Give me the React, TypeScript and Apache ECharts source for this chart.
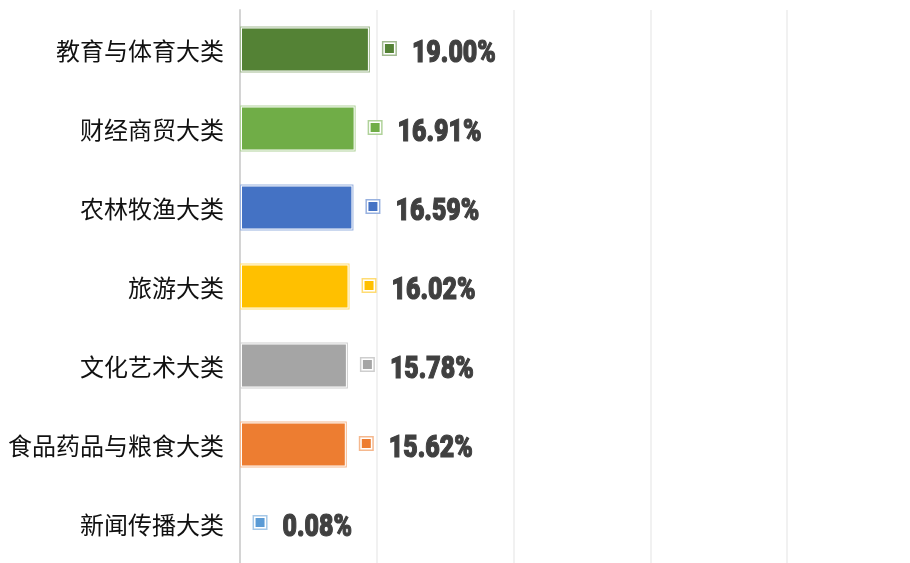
import React, { useEffect, useRef } from "react";
import * as echarts from "echarts";

const categories = [
  "教育与体育大类",
  "财经商贸大类",
  "农林牧渔大类",
  "旅游大类",
  "文化艺术大类",
  "食品药品与粮食大类",
  "新闻传播大类",
];
const values = [19.0, 16.91, 16.59, 16.02, 15.78, 15.62, 0.08];
const colors = ["#548235", "#70AD47", "#4472C4", "#FFC000", "#A5A5A5", "#ED7D31", "#5B9BD5"];
const xMin = 0;
const xMax = 80;
const xInterval = 20;

function lighten(hex: string, t: number): string {
  const n = parseInt(hex.slice(1), 16);
  const r = (n >> 16) & 255;
  const g = (n >> 8) & 255;
  const b = n & 255;
  const f = (c: number) => Math.round(c + (255 - c) * t);
  return `rgb(${f(r)},${f(g)},${f(b)})`;
}

export default function App() {
  const ref = useRef<HTMLDivElement>(null);
  useEffect(() => {
    document.body.style.margin = "0";
    const chart = echarts.init(ref.current!, null, { renderer: "svg" });
    chart.setOption({
      animation: false,
      grid: { left: 240, top: 10, width: 547, height: 557, containLabel: false },
      xAxis: {
        type: "value",
        min: xMin,
        max: xMax,
        interval: xInterval,
        axisLabel: { show: false },
        axisLine: { show: false },
        axisTick: { show: false },
        splitLine: { lineStyle: { color: "#EDEDED", width: 1.5 } },
      },
      yAxis: {
        type: "category",
        data: categories,
        inverse: true,
        axisLine: { lineStyle: { color: "#D4D4D4", width: 2 } },
        axisTick: { show: false },
        axisLabel: {
          fontSize: 24,
          color: "#111111",
          margin: 16,
          fontFamily: "Noto Sans CJK SC",
        },
      },
      series: [
        {
          type: "custom",
          clip: false,
          encode: { x: 0, y: 1 },
          data: values.map((v, i) => [v, i]),
          renderItem: (params: any, api: any) => {
            const v = api.value(0);
            const idx = api.value(1);
            const start = api.coord([0, idx]);
            const end = api.coord([v, idx]);
            const band = api.size([0, 1])[1];
            const h = band * 0.58;
            const x0 = start[0];
            const x1 = end[0];
            const cy = start[1];
            const c = colors[idx];
            const lc = lighten(c, 0.45);
            const w = x1 - x0;
            const children: any[] = [];
            if (w > 4) {
              children.push({
                type: "rect",
                shape: { x: x0, y: cy - h / 2, width: w, height: h },
                style: { fill: lc },
              });
              children.push({
                type: "rect",
                shape: { x: x0 + 1, y: cy - h / 2 + 1, width: w - 2, height: h - 2 },
                style: { fill: "#ffffff" },
              });
              children.push({
                type: "rect",
                shape: { x: x0 + 2, y: cy - h / 2 + 2, width: w - 4, height: h - 4 },
                style: { fill: c },
              });
            }
            const ms = 15;
            const mx = x1 + 12;
            const my = cy - ms / 2 - 1;
            children.push({
              type: "rect",
              shape: { x: mx, y: my, width: ms, height: ms },
              style: { fill: lc },
            });
            children.push({
              type: "rect",
              shape: { x: mx + 1.5, y: my + 1.5, width: ms - 3, height: ms - 3 },
              style: { fill: "#ffffff" },
            });
            children.push({
              type: "rect",
              shape: { x: mx + 3, y: my + 3, width: ms - 6, height: ms - 6 },
              style: { fill: c },
            });
            children.push({
              type: "text",
              x: x1 + 42,
              y: cy + 1,
              scaleX: 0.78,
              style: {
                text: v.toFixed(2) + "%",
                fontSize: 32,
                fontWeight: 900,
                fontFamily: "Roboto",
                fill: "#404040",
                stroke: "#404040",
                lineWidth: 1.2,
                align: "left",
                verticalAlign: "middle",
              },
            });
            return { type: "group", children };
          },
        },
      ],
    });
    return () => chart.dispose();
  }, []);
  return (
    <div
      ref={ref}
      style={{ position: "fixed", left: 0, top: 0, width: 910, height: 563 }}
    />
  );
}
